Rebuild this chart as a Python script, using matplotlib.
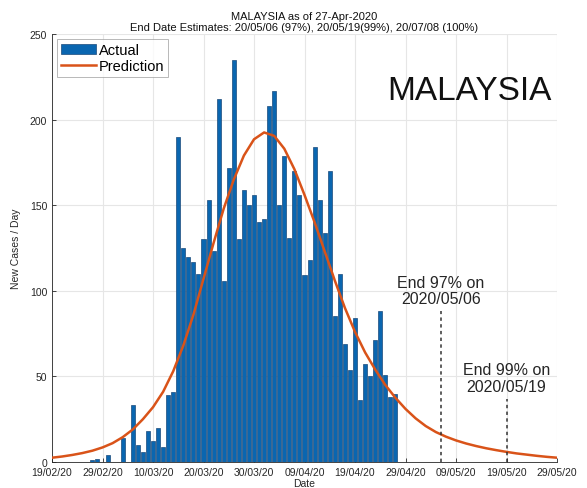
import datetime as dt
import matplotlib
matplotlib.use("Agg")
import matplotlib.pyplot as plt
import matplotlib.dates as mdates

plt.rcParams["font.family"] = ["Liberation Sans", "DejaVu Sans"]

# Daily new COVID-19 cases in Malaysia, 19 Feb 2020 .. 27 Apr 2020
start = dt.date(2020, 2, 19)
new_cases = [
    0, 0, 0, 0, 0, 0, 0, 0,              # 19-26 Feb
    1, 2, 0, 4, 0, 0, 14, 0, 33, 10,     # 27 Feb - 7 Mar
    6, 18, 12, 20, 9, 39, 41,            # 8-14 Mar
    190, 125, 120, 117, 110, 130, 153,   # 15-21 Mar
    123, 212, 106, 172, 235, 130, 159,   # 22-28 Mar
    150, 156, 140, 142, 208, 217, 150,   # 29 Mar - 4 Apr
    179, 131, 170, 156, 109, 118, 184,   # 5-11 Apr
    153, 134, 170, 85, 110, 69, 54,      # 12-18 Apr
    84, 36, 57, 50, 71, 88, 51,          # 19-25 Apr
    38, 40,                              # 26-27 Apr
]
case_dates = [start + dt.timedelta(days=i) for i in range(len(new_cases))]

# Fitted prediction curve, sampled every two days from 19 Feb
pred_step = 2
pred_values = [
    2.5, 3.2, 4.1, 5.2, 6.6, 8.5, 11.0, 14.5, 19, 25,
    32, 41, 53, 68, 86, 107, 128, 148, 165, 179,
    188.5, 192.5, 190.5, 183, 171, 156, 140, 123, 106, 90,
    76, 64, 54, 45, 37.5, 31, 25.5, 21, 17.5, 14.8,
    12.6, 10.8, 9.3, 8.0, 6.9, 5.9, 5.0, 4.3, 3.6, 3.0,
    2.5,
]
pred_dates = [start + dt.timedelta(days=pred_step * i) for i in range(len(pred_values))]

# End-date estimates
end97 = dt.date(2020, 5, 6)
end99 = dt.date(2020, 5, 19)
end97_level = 88
end99_level = 37

x_ticks = [start + dt.timedelta(days=10 * i) for i in range(11)]
y_ticks = [0, 50, 100, 150, 200, 250]

bar_color = "#0a66b0"
bar_edge = "#1b4a7a"
pred_color = "#D95319"
grid_color = "#e6e6e6"
text_color = "#262626"

fig = plt.figure(figsize=(5.87, 4.89), dpi=100)
ax = fig.add_axes([0.0886, 0.0532, 0.8603, 0.8752])

bars = ax.bar(case_dates, new_cases, width=0.8, color=bar_color, edgecolor=bar_edge,
              linewidth=0.5, label="Actual", zorder=2)
line, = ax.plot(pred_dates, pred_values, color=pred_color, linewidth=1.8,
                label="Prediction", zorder=3, solid_joinstyle="round")

ax.plot([end97, end97], [0, end97_level], color="#333333", linewidth=1.1,
        linestyle=(0, (2.2, 2.2)), zorder=4)
ax.plot([end99, end99], [0, end99_level], color="#333333", linewidth=1.1,
        linestyle=(0, (2.2, 2.2)), zorder=4)
ax.text(end97, 91, "End 97% on\n2020/05/06", ha="center", va="bottom",
        fontsize=11.5, color=text_color, linespacing=1.1)
ax.text(end99, 40, "End 99% on\n2020/05/19", ha="center", va="bottom",
        fontsize=11.5, color=text_color, linespacing=1.1)

ax.text(0.99, 0.867, "MALAYSIA", transform=ax.transAxes, ha="right",
        va="center", fontsize=24, color="#111111")

ax.set_xlim(x_ticks[0], x_ticks[-1])
ax.set_ylim(0, 250)
ax.set_xticks(x_ticks)
ax.xaxis.set_major_formatter(mdates.DateFormatter("%d/%m/%y"))
ax.set_yticks(y_ticks)
ax.tick_params(axis="both", labelsize=7.5, colors="#262626", direction="in",
               length=3, width=0.6)
ax.grid(True, color=grid_color, linewidth=0.8, zorder=0)
ax.set_axisbelow(True)
for side in ("top", "right"):
    ax.spines[side].set_visible(False)
for side in ("left", "bottom"):
    ax.spines[side].set_color("#262626")
    ax.spines[side].set_linewidth(0.6)

ax.set_xlabel("Date", fontsize=7.5, color=text_color, labelpad=1)
ax.set_ylabel("New Cases / Day", fontsize=7.5, color=text_color)
ax.yaxis.set_label_coords(-0.062, 0.5)
ax.set_title("MALAYSIA as of 27-Apr-2020\n"
             "End Date Estimates: 20/05/06 (97%), 20/05/19(99%), 20/07/08 (100%)",
             fontsize=8, color="#111111", pad=3, linespacing=1.15)

leg = ax.legend([bars, line], ["Actual", "Prediction"], loc="upper left",
                fontsize=10.5, frameon=True, fancybox=False,
                borderpad=0.25, handlelength=2.4, handletextpad=0.2,
                labelspacing=0.15, borderaxespad=0.35)
leg.get_frame().set_edgecolor("#999999")
leg.get_frame().set_linewidth(0.6)

fig.savefig("out.png", dpi=100)
